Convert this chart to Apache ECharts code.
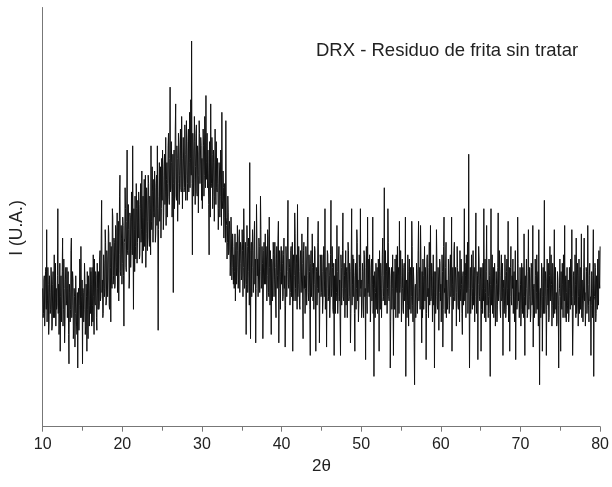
<!DOCTYPE html>
<html>
<head>
<meta charset="utf-8">
<script src="https://cdn.jsdelivr.net/npm/echarts@6/dist/echarts.min.js"></script>
<style>html,body{margin:0;padding:0;background:#fff}#c{width:612px;height:487px}</style>
</head>
<body>
<div id="c"></div>
<script>
// 2θ from 10 to 80, step 0.05 deg (one row = one degree)
const twoThetaStart = 10, twoThetaStep = 0.05;
const xTicks = [10, 20, 30, 40, 50, 60, 70, 80];
const intensity = [
33,26,27,35,36,24,29,37,38,28,47,25,30,38,34,22,25,36,32,27,
28,38,35,23,24,34,37,26,30,41,26,33,39,24,33,28,29,36,52,27,
34,22,27,39,18,31,36,25,30,37,45,24,28,40,33,20,25,35,38,29,
30,38,26,33,37,22,15,34,32,25,28,42,45,26,29,37,35,21,24,33,
31,19,27,36,36,24,22,32,14,30,33,23,29,40,38,26,43,31,26,35,
15,33,32,25,28,39,35,22,24,34,31,18,37,28,21,36,33,24,29,38,
27,37,34,24,38,29,25,41,31,22,40,30,29,37,36,26,23,39,33,28,
37,28,29,40,42,30,31,45,54,32,35,26,27,41,39,31,33,47,44,29,
30,42,40,31,35,48,46,29,28,44,38,25,43,35,33,52,50,34,36,45,
44,33,34,48,47,36,38,51,32,42,49,30,41,55,60,37,36,48,45,34,
39,50,48,36,24,44,45,57,52,38,37,49,66,42,41,53,47,33,35,51,
50,38,42,56,49,41,67,45,28,52,47,37,55,43,40,58,52,39,44,54,
45,56,53,40,41,52,58,44,47,61,39,50,55,42,50,59,43,51,60,38,
46,57,54,42,49,60,58,45,43,55,52,41,67,49,47,62,56,44,51,59,
50,61,57,44,46,58,60,48,67,52,23,47,55,63,49,56,62,45,52,64,
54,66,60,47,51,62,65,53,56,69,48,59,63,50,58,67,70,55,53,64,
81,56,57,68,63,50,55,65,32,58,66,52,59,71,77,55,54,67,64,49,
58,70,67,53,60,66,71,57,56,74,64,52,61,69,69,56,57,72,65,54,
60,73,66,54,58,68,71,56,63,75,57,64,78,60,92,58,41,70,66,55,
59,74,68,53,62,70,72,56,55,67,65,51,60,73,70,58,58,69,67,54,
64,52,58,71,67,55,60,74,70,57,79,59,63,70,57,66,66,53,41,68,
62,50,77,57,58,69,65,52,57,66,63,49,55,71,61,53,68,57,56,64,
58,47,52,63,61,50,55,66,63,48,75,54,52,61,57,45,50,58,56,44,
73,50,48,40,44,55,51,41,42,49,47,36,40,50,45,35,38,46,43,34,
41,33,37,46,30,42,44,34,38,48,42,33,35,45,47,32,39,44,43,35,
36,47,42,31,38,52,45,33,35,44,40,22,34,48,43,32,37,45,41,29,
63,34,21,42,44,31,38,47,42,32,35,45,49,34,40,20,33,53,45,36,
40,31,35,45,43,32,37,55,47,33,34,43,39,21,30,42,44,34,38,46,
34,43,40,30,36,47,45,32,31,50,38,29,42,35,22,40,39,30,35,44,
41,31,35,44,38,30,26,40,43,33,36,45,49,20,33,42,39,28,37,43,
34,42,39,30,31,41,45,33,36,19,29,43,40,31,37,45,54,34,33,40,
38,29,32,42,43,31,35,44,18,39,41,30,36,51,46,33,30,41,39,28,
53,31,34,43,37,29,28,40,42,32,35,46,39,30,21,42,44,33,36,27,
33,43,40,29,36,45,50,32,30,41,37,28,17,39,42,31,35,46,38,30,
39,28,34,43,42,30,18,38,37,29,33,44,49,32,36,20,29,41,40,31,
32,41,37,27,30,40,43,31,35,52,28,37,38,19,33,42,41,30,31,39,
36,26,30,41,54,31,33,43,38,28,27,39,17,36,35,27,40,30,32,48,
37,27,31,40,43,30,35,25,17,41,38,29,33,42,51,31,30,39,36,26,
33,42,29,37,38,26,35,44,42,30,31,39,37,20,27,40,52,29,34,41,
31,40,36,27,18,35,39,28,33,47,44,30,35,25,29,41,38,31,52,33,
35,26,30,39,37,28,26,42,41,31,33,16,38,43,31,27,50,32,34,40,
31,41,36,25,29,38,40,30,34,50,27,36,12,33,37,26,32,39,35,28,
38,27,30,40,35,18,42,32,28,39,36,26,33,41,45,30,31,36,57,29,
34,42,29,37,39,27,33,52,44,31,30,38,36,14,25,34,38,28,33,41,
31,17,37,29,28,40,35,26,41,33,32,43,26,36,38,27,49,32,34,42,
36,25,30,40,33,28,27,38,39,30,31,50,12,34,35,26,29,41,37,24,
33,40,28,36,38,27,31,49,43,29,25,38,35,20,10,33,34,26,30,39,
37,27,31,42,49,30,33,38,28,48,40,29,20,37,26,40,36,28,34,43,
30,38,35,16,27,40,41,31,33,26,38,44,29,36,48,30,31,39,36,25,
33,41,29,37,14,32,37,27,31,47,40,29,28,38,35,23,32,40,39,30,
34,25,30,41,37,19,28,43,50,32,33,27,38,44,26,35,35,28,31,40,
36,27,29,39,41,31,33,50,18,34,38,28,31,42,44,30,30,38,35,24,
32,43,38,29,28,37,35,25,42,33,30,40,34,27,22,36,37,29,33,52,
30,39,36,26,41,32,33,44,27,35,65,33,14,30,38,27,31,41,35,28,
33,42,29,36,38,25,31,40,51,30,27,37,36,16,34,43,40,31,30,38,
35,18,28,38,33,27,39,30,52,33,26,40,32,25,37,48,29,35,34,26,
31,40,36,27,12,34,52,29,33,41,27,35,38,26,30,39,35,24,28,37,
34,25,29,38,51,30,32,42,37,28,26,36,41,30,31,39,17,33,35,27,
30,41,36,26,28,37,40,29,33,49,25,34,38,18,31,38,43,30,29,36,
33,40,27,35,37,25,31,42,16,33,35,28,29,50,39,30,32,26,30,38,
34,24,28,39,32,27,38,30,26,46,31,17,36,29,29,40,33,26,27,37,
47,28,31,38,35,25,27,39,38,29,30,48,19,33,34,26,29,40,36,27,
32,41,28,35,37,24,47,30,10,32,33,26,29,39,36,18,31,38,27,35,
54,27,31,37,35,17,28,40,33,29,39,25,26,36,43,30,30,41,34,24,
29,39,36,26,31,47,27,35,38,28,32,24,25,37,35,29,14,31,33,40,
31,18,37,29,28,39,34,26,41,32,30,48,26,35,36,25,32,38,29,27,
35,25,27,38,33,28,40,31,29,47,31,17,24,36,37,29,30,41,34,26,
45,27,29,39,36,24,31,40,27,33,38,28,33,46,26,35,35,25,30,38,
45,30,32,24,28,38,37,27,30,48,34,29,25,36,39,30,31,17,29,37,
33,26,36,47,12,30,31,39,38,25,27,36,34,28,40,31,29,42,35,33,
43
];
const titleText = 'DRX - Residuo de frita sin tratar';
const xName = '2θ';
const yName = 'I (U.A.)';

const seriesData = intensity.map((v, i) => [+(twoThetaStart + i * twoThetaStep).toFixed(2), v]);

const chart = echarts.init(document.getElementById('c'), null, {renderer: 'canvas'});
const font = '"Liberation Sans", Arial, Helvetica, sans-serif';
chart.setOption({
  animation: false,
  backgroundColor: '#fff',
  title: {
    text: titleText, left: 311, top: 36,
    textStyle: {fontFamily: font, fontSize: 18.5, fontWeight: 'normal', color: '#222'}
  },
  graphic: [{
    type: 'text', x: 17, y: 228, rotation: Math.PI / 2,
    style: {text: yName, font: '17.5px "Liberation Sans", Arial, sans-serif',
      fill: '#222', textAlign: 'center', textVerticalAlign: 'middle'}
  }],
  grid: {left: 42.7, top: 7.5, right: 7.7, bottom: 60.3, containLabel: false},
  xAxis: {
    type: 'value', min: 10, max: 80, interval: 10,
    name: xName, nameLocation: 'middle', nameGap: 27,
    nameTextStyle: {fontFamily: font, fontSize: 17, color: '#222'},
    axisLine: {show: true, lineStyle: {color: '#777', width: 1}},
    axisTick: {show: true, length: 5, inside: false, lineStyle: {color: '#777'}},
    minorTick: {show: true, splitNumber: 2, length: 4, lineStyle: {color: '#777'}},
    axisLabel: {fontFamily: font, fontSize: 16, color: '#222', margin: 10},
    splitLine: {show: false}
  },
  yAxis: {
    type: 'value', min: 0, max: 100,
    axisLine: {show: true, lineStyle: {color: '#777', width: 1}},
    axisTick: {show: false},
    axisLabel: {show: false},
    splitLine: {show: false}
  },
  series: [{
    type: 'line', data: seriesData, showSymbol: false, symbol: 'none',
    lineStyle: {color: '#111', width: 1}, smooth: false
  }]
});
</script>
</body>
</html>
